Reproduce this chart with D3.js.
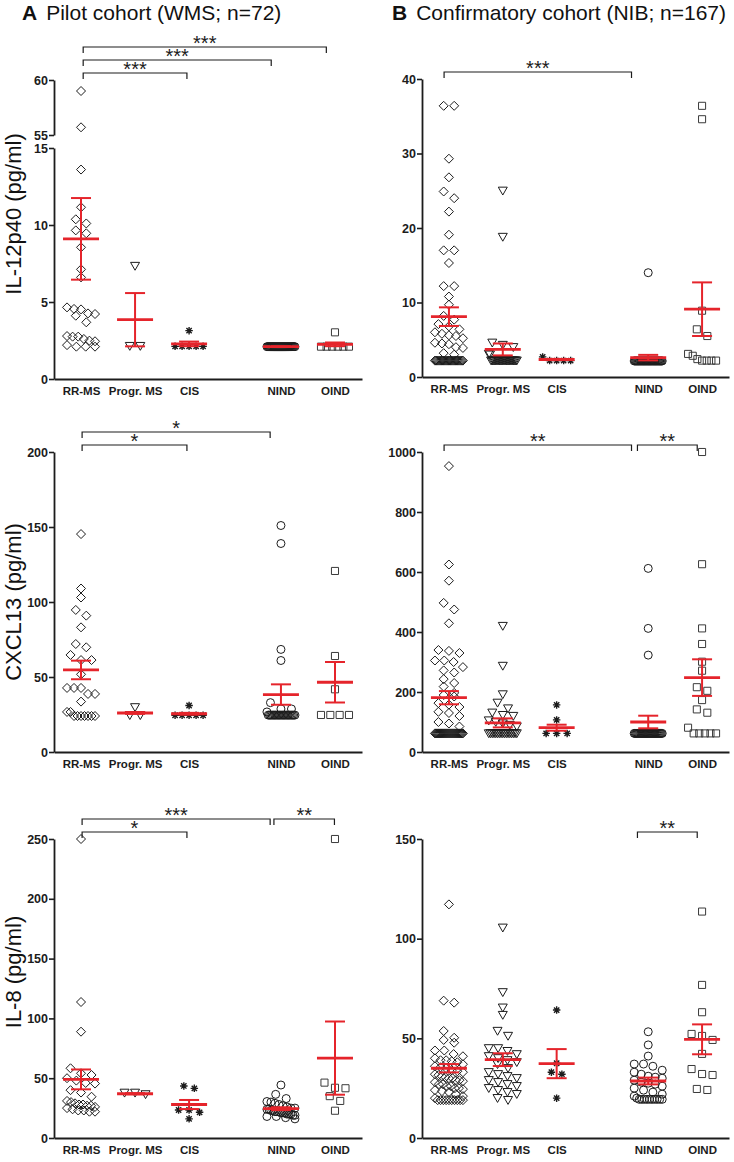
<!DOCTYPE html>
<html><head><meta charset="utf-8">
<script src="https://cdn.jsdelivr.net/npm/d3@7"></script>
<style>
body{margin:0;background:#fff}
svg{display:block}
text{font-family:"Liberation Sans",Arial,Helvetica,sans-serif}
</style>
</head><body>
<svg id="chart" width="734" height="1162"></svg>
<script>
// ---------------- DATA ----------------
const categories = ["RR-MS", "Progr. MS", "CIS", "NIND", "OIND"];
const panelTitles = ["Pilot cohort (WMS; n=72)", "Confirmatory cohort (NIB; n=167)"];
const panelLetters = ["A", "B"];
const yTitles = ["IL-12p40 (pg/ml)", "CXCL13 (pg/ml)", "IL-8 (pg/ml)"];

// IL-12p40, pilot cohort
const il12Pilot = [
  [59.0, 55.7, 13.6, 11.15, 10.37, 10.1, 9.65, 9.46, 8.55, 7.12, 6.6, 4.65, 4.55, 4.52, 4.26, 4.22, 4.11, 3.68, 2.79, 2.75, 2.75, 2.6, 2.49, 2.45, 2.2, 2.1, 2.1, 2.1],
  [7.34, 2.14, 2.14],
  [3.14, 2.12, 2.12, 2.12, 2.12, 2.12],
  [2.1, 2.1, 2.1, 2.1, 2.1, 2.1, 2.1, 2.1, 2.1, 2.1, 2.1, 2.1, 2.1, 2.1, 2.1, 2.1, 2.1, 2.1, 2.1, 2.1, 2.1, 2.1, 2.1, 2.1, 2.1, 2.1, 2.1, 2.1, 2.1, 2.1],
  [3.03, 2.1, 2.1, 2.1, 2.1, 2.1, 2.1]
];
const il12PilotMean = [9.1, 3.85, 2.28, 2.1, 2.25];
const il12PilotSem = [2.65, 1.73, 0.15, 0.02, 0.12];
const il12PilotTicksLow = [0, 5, 10, 15];
const il12PilotTicksHigh = [55, 60];
const il12PilotSig = [
  {from: 0.54, to: 2.46, level: 0, label: "***"},
  {from: 0.54, to: 4.02, level: 1, label: "***"},
  {from: 0.54, to: 5.04, level: 2, label: "***"}
];

// IL-12p40, confirmatory cohort
const il12Conf = [
  [36.4, 36.4, 29.3, 26.8, 24.9, 24.0, 22.2, 19.1, 17.0, 17.0, 15.3, 12.2, 12.2, 10.8, 9.7, 8.2, 7.7, 7.1, 6.8, 6.4, 6.0, 5.8, 5.6, 5.5, 5.2, 4.6, 4.5, 4.4, 4.0, 3.9, 3.2, 3.0,
   2.2, 2.2, 2.2, 2.2, 2.2, 2.2, 2.2, 2.2, 2.2, 2.2, 2.2, 2.2, 2.2, 2.2, 2.2, 2.2, 2.2, 2.2, 2.2, 2.2, 2.2, 2.2, 2.2, 2.2, 2.2],
  [25.0, 18.8, 4.6, 4.3, 4.0, 3.1, 3.0, 2.2, 2.2, 2.2, 2.2, 2.2, 2.2, 2.2, 2.2, 2.2, 2.2, 2.2, 2.2, 2.2, 2.2, 2.2, 2.2, 2.2, 2.2, 2.2, 2.2, 2.2, 2.2, 2.2],
  [2.7, 2.2, 2.2, 2.2, 2.2],
  [14.0, 2.15, 2.15, 2.15, 2.15, 2.15, 2.15, 2.15, 2.15, 2.15, 2.15, 2.15, 2.15, 2.15, 2.15, 2.15, 2.15, 2.15, 2.15, 2.15, 2.15, 2.15, 2.15, 2.15, 2.15, 2.15, 2.15, 2.15, 2.15, 2.15, 2.15, 2.15, 2.15, 2.15, 2.15],
  [36.4, 34.6, 8.9, 6.4, 5.5, 3.1, 2.85, 2.4, 2.2, 2.2, 2.2, 2.2]
];
const il12ConfMean = [8.1, 3.7, 2.35, 2.6, 9.1];
const il12ConfSem = [1.25, 0.8, 0.08, 0.37, 3.6];
const il12ConfTicks = [0, 10, 20, 30, 40];
const il12ConfSig = [
  {from: 0.41, to: 3.89, level: 0, label: "***"}
];

// CXCL13, pilot cohort
const cxclPilot = [
  [145.3, 109, 103, 94.7, 90.9, 83.1, 72, 69.8, 64.7, 61.3, 61.3, 51.8, 42.7, 42.7, 42.7, 38.7, 38.7, 33.6, 26.7, 26.7, 24, 24, 24, 24, 24, 24, 24],
  [29.8, 24.5, 24.5],
  [31, 24.5, 24.5, 24.5, 24.5, 24.5],
  [151, 139, 68.4, 61, 32.9, 28.7, 28.7, 26.7, 24.6, 24.6, 24.6, 24.6, 24.6, 24.6, 24.6, 24.6, 24.6, 24.6, 24.6, 24.6, 24.6, 24.6, 24.6, 24.6, 24.6, 24.6, 24.6, 24.6, 24.6, 24.6],
  [120.7, 64, 41.8, 24.7, 24.7, 24.7, 24.7]
];
const cxclPilotMean = [54.7, 26, 25.5, 38.3, 46.5];
const cxclPilotSem = [6.2, 0.6, 0.6, 6.8, 13.5];
const cxclPilotTicks = [0, 50, 100, 150, 200];
const cxclPilotSig = [
  {from: 0.52, to: 2.46, level: 0, label: "*"},
  {from: 0.52, to: 4.0, level: 1, label: "*"}
];

// CXCL13, confirmatory cohort
const cxclConf = [
  [953, 625, 571, 497, 475, 429, 340, 337, 330, 305, 305, 300, 283, 272, 265, 243, 230, 218, 197, 190, 185, 163, 158, 150, 134, 130, 120, 100, 95, 85,
   62, 62, 62, 62, 62, 62, 62, 62, 62, 62, 62, 62, 62, 62, 62, 62, 62, 62, 62, 62, 62, 62, 62, 62, 62, 62, 62, 62],
  [420, 287, 192, 164, 145, 131, 123, 120, 105, 100, 95, 90, 85, 62, 62, 62, 62, 62, 62, 62, 62, 62, 62, 62, 62, 62, 62, 62, 62, 62],
  [157, 107, 62, 62, 62],
  [612, 412, 323, 62, 62, 62, 62, 62, 62, 62, 62, 62, 62, 62, 62, 62, 62, 62, 62, 62, 62, 62, 62, 62, 62, 62, 62, 62, 62, 62, 62, 62, 62, 62, 62],
  [1000, 626, 412, 360, 301, 271, 216, 204, 173, 142, 131, 81, 62, 62, 62, 62, 62]
];
const cxclConfMean = [181, 97, 81, 100, 248];
const cxclConfSem = [22, 15, 10, 21, 61];
const cxclConfTicks = [0, 200, 400, 600, 800, 1000];
const cxclConfSig = [
  {from: 0.41, to: 3.89, level: 0, label: "**"},
  {from: 4.0, to: 5.11, level: 0, label: "**"}
];

// IL-8, pilot cohort
const il8Pilot = [
  [250, 113.7, 88.9, 58.3, 54.1, 52.7, 50, 48, 46, 45.5, 40, 38, 34.5, 31, 30, 29, 28, 28, 27, 27, 26, 25, 24, 23, 23, 22, 22],
  [37.8, 36.5, 37.8],
  [41.5, 43.5, 23.4, 21.5, 23.4, 16],
  [44.3, 36.5, 33, 30.5, 30, 29, 28, 27, 26, 25, 25, 24, 24, 23, 23, 22, 22, 22, 21, 21, 21, 20, 20, 20, 19, 19, 18, 18, 17, 16],
  [250, 46.3, 41.6, 42, 35, 31, 22.8]
];
const il8PilotMean = [49, 37, 28, 24.5, 66.8];
const il8PilotSem = [8.3, 0.5, 3.8, 1.2, 30.6];
const il8PilotTicks = [0, 50, 100, 150, 200, 250];
const il8PilotSig = [
  {from: 0.52, to: 2.46, level: 0, label: "*"},
  {from: 0.52, to: 4.0, level: 1, label: "***"},
  {from: 4.07, to: 5.19, level: 1, label: "**"}
];

// IL-8, confirmatory cohort
const il8Conf = [
  [117.2, 68.9, 67.9, 53.7, 50.3, 49.2, 47.8, 43.9, 43.9, 42.1, 41, 40, 39, 39, 38.5, 38, 37, 36, 35.5, 35, 34, 33.5, 33, 32, 31.5, 31, 30.5, 30, 30, 29, 29, 28.5, 28, 27, 27, 26, 26, 25, 25, 24.5, 24, 23.5, 23, 22, 21, 20, 19, 19, 19, 19, 19, 19, 19, 19, 19, 19],
  [105.5, 73.1, 65.4, 61.7, 53.7, 51.2, 45, 43.6, 45, 42, 41, 40, 39, 38, 37, 35, 33, 32, 31, 30, 29, 28, 27, 26, 25, 24, 23, 22, 20, 19],
  [64.2, 37.5, 33, 32, 20],
  [53.3, 46.7, 41.1, 37.1, 37.1, 36, 34, 33, 32, 31, 30.5, 30, 29, 28, 27.5, 27, 26, 25, 24, 23, 22, 21, 20, 19.4, 19.4, 19.4, 19.4, 19.4, 19.4, 19.4, 19.4, 19.4, 19.4],
  [113.6, 76.8, 63.1, 52.2, 51.2, 49.2, 42.2, 34.6, 32.1, 31.6, 24.6, 24.1]
];
const il8ConfMean = [35, 39.3, 37.3, 28.6, 49.5];
const il8ConfSem = [2.1, 3.2, 7.3, 1.7, 7.5];
const il8ConfTicks = [0, 50, 100, 150];
const il8ConfSig = [
  {from: 4.0, to: 5.11, level: 0, label: "**"}
];

// ---------------- DRAWING ----------------
const svg = d3.select("#chart");
const RED = "#e5242b";
const INK = "#1c1c1c";
const FONT = '"Liberation Sans",Arial,Helvetica,sans-serif';
const catSlot = [0.5, 1.5, 2.5, 4.2, 5.2];

// marker shapes
const diamond = {draw(ctx, size){ const r = Math.sqrt(size)/2; ctx.moveTo(0,-r); ctx.lineTo(r,0); ctx.lineTo(0,r); ctx.lineTo(-r,0); ctx.closePath(); }};
const triDown = {draw(ctx, size){ const r = Math.sqrt(size)/2; ctx.moveTo(-r,-r*0.8); ctx.lineTo(r,-r*0.8); ctx.lineTo(0,r*0.95); ctx.closePath(); }};
const square = {draw(ctx, size){ const r = Math.sqrt(size)/2; ctx.rect(-r,-r,2*r,2*r); }};
const circle = {draw(ctx, size){ const r = Math.sqrt(size)/2; ctx.moveTo(r,0); ctx.arc(0,0,r,0,2*Math.PI); }};
const aster = {draw(ctx, size){ const r = Math.sqrt(size)/2;
  for (let k=0;k<4;k++){ const a = k*Math.PI/4; ctx.moveTo(-r*Math.cos(a), -r*Math.sin(a)); ctx.lineTo(r*Math.cos(a), r*Math.sin(a)); } }};
const shapes = [
  {type: diamond, size: 81, stroke: INK},
  {type: triDown, size: 81, stroke: INK},
  {type: aster, size: 56, stroke: INK, sw: 1.4},
  {type: circle, size: 64, stroke: INK},
  {type: square, size: 50, stroke: "#3a3a3a"}
];

function swarm(vals, yf, cx, spacing, maxHalf, rowH){
  const pts = vals.map(v => ({v, y: yf(v)})).sort((a,b) => a.y - b.y);
  const rows = []; let cur = null;
  pts.forEach(p => { if (!cur || p.y - cur.y0 > rowH){ cur = {y0: p.y, pts: []}; rows.push(cur);} cur.pts.push(p); });
  rows.forEach(r => {
    const n = r.pts.length;
    const s = n > 1 ? Math.min(spacing, 2*maxHalf/(n-1)) : 0;
    r.pts.forEach((p,i) => p.x = cx + (i - (n-1)/2)*s);
  });
  return pts;
}

const cols = [{x0: 54, x1: 362}, {x0: 422, x1: 729}];

const panels = [
  {col: 0, top: 80, bottom: 379, data: il12Pilot, mean: il12PilotMean, sem: il12PilotSem, sig: il12PilotSig,
   broken: {lowDomain: [0, 15], lowTop: 148, highDomain: [55, 60], highBottom: 135, lowTicks: il12PilotTicksLow, highTicks: il12PilotTicksHigh}},
  {col: 1, top: 79, bottom: 377, data: il12Conf, mean: il12ConfMean, sem: il12ConfSem, sig: il12ConfSig, domain: [0, 40], ticks: il12ConfTicks},
  {col: 0, top: 452, bottom: 752, data: cxclPilot, mean: cxclPilotMean, sem: cxclPilotSem, sig: cxclPilotSig, domain: [0, 200], ticks: cxclPilotTicks},
  {col: 1, top: 452, bottom: 752, data: cxclConf, mean: cxclConfMean, sem: cxclConfSem, sig: cxclConfSig, domain: [0, 1000], ticks: cxclConfTicks},
  {col: 0, top: 839, bottom: 1138, data: il8Pilot, mean: il8PilotMean, sem: il8PilotSem, sig: il8PilotSig, domain: [0, 250], ticks: il8PilotTicks},
  {col: 1, top: 839, bottom: 1138, data: il8Conf, mean: il8ConfMean, sem: il8ConfSem, sig: il8ConfSig, domain: [0, 150], ticks: il8ConfTicks}
];

function styleAxis(g){
  g.selectAll("path.domain").attr("stroke", INK).attr("stroke-width", 1.8);
  g.selectAll(".tick line").attr("stroke", INK).attr("stroke-width", 1.6);
  g.selectAll(".tick text").attr("fill", INK).attr("font-family", FONT).attr("font-weight", "bold").attr("font-size", 12.5);
}
const fmt = d3.format("d");

panels.forEach(P => {
  const {x0, x1} = cols[P.col];
  const g = svg.append("g");
  const xs = d3.scaleLinear().domain([0, 5.7]).range([x0, x1]);
  let y;
  if (P.broken){
    const B = P.broken;
    const yl = d3.scaleLinear().domain(B.lowDomain).range([P.bottom, B.lowTop]);
    const yh = d3.scaleLinear().domain(B.highDomain).range([B.highBottom, P.top]);
    y = v => v > B.lowDomain[1] ? yh(v) : yl(v);
    const gl = g.append("g").attr("transform", `translate(${x0},0)`)
      .call(d3.axisLeft(yl).tickValues(B.lowTicks).tickFormat(fmt).tickSize(5).tickSizeOuter(0).tickPadding(1));
    styleAxis(gl);
    const gh = g.append("g").attr("transform", `translate(${x0},0)`)
      .call(d3.axisLeft(yh).tickValues(B.highTicks).tickFormat(fmt).tickSize(5).tickSizeOuter(0).tickPadding(1));
    styleAxis(gh);
  } else {
    y = d3.scaleLinear().domain(P.domain).range([P.bottom, P.top]);
    const gy = g.append("g").attr("transform", `translate(${x0},0)`)
      .call(d3.axisLeft(y).tickValues(P.ticks).tickFormat(fmt).tickSize(5).tickSizeOuter(0).tickPadding(1));
    styleAxis(gy);
  }
  // x axis
  const gx = g.append("g").attr("transform", `translate(0,${P.bottom})`)
    .call(d3.axisBottom(xs).tickValues(catSlot).tickFormat((d,i) => categories[i]).tickSize(0).tickSizeOuter(0).tickPadding(8));
  styleAxis(gx);
  gx.selectAll(".tick text").attr("font-size", 11.5);

  // points
  P.data.forEach((vals, ci) => {
    const sh = shapes[ci];
    const pts = swarm(vals, y, xs(catSlot[ci]), 10.5, 14, 7);
    g.append("g").selectAll("path").data(pts).join("path")
      .attr("transform", d => `translate(${d.x},${d.y})`)
      .attr("d", d3.symbol().type(sh.type).size(sh.size))
      .attr("fill", "none").attr("stroke", sh.stroke).attr("stroke-width", sh.sw || 1);
  });

  // mean +- SEM
  const mg = g.append("g").attr("stroke", RED).attr("fill", "none");
  P.mean.forEach((m, ci) => {
    const cx = xs(catSlot[ci]);
    const s = P.sem[ci];
    mg.append("line").attr("x1", cx).attr("x2", cx).attr("y1", y(m - s)).attr("y2", y(m + s)).attr("stroke-width", 2);
    mg.append("line").attr("x1", cx - 10).attr("x2", cx + 10).attr("y1", y(m + s)).attr("y2", y(m + s)).attr("stroke-width", 2);
    mg.append("line").attr("x1", cx - 10).attr("x2", cx + 10).attr("y1", y(m - s)).attr("y2", y(m - s)).attr("stroke-width", 2);
    mg.append("line").attr("x1", cx - 18).attr("x2", cx + 18).attr("y1", y(m)).attr("y2", y(m)).attr("stroke-width", 2.8);
  });

  // significance brackets
  const sg = g.append("g");
  P.sig.forEach(b => {
    const ly = P.top - 7 - 13*b.level;
    const xa = xs(b.from), xb = xs(b.to);
    sg.append("path").attr("d", `M${xa},${ly+6}V${ly}H${xb}V${ly+6}`)
      .attr("fill", "none").attr("stroke", INK).attr("stroke-width", 1.2);
    sg.append("text").attr("x", (xa + xb)/2).attr("y", ly + 3).attr("text-anchor", "middle")
      .attr("font-size", 20).attr("fill", INK).text(b.label);
  });
});

// panel titles
cols.forEach((c, i) => {
  const t = svg.append("text").attr("x", i === 0 ? 22 : 392).attr("y", 20).attr("font-size", 21).attr("fill", "#111");
  t.append("tspan").attr("font-weight", "bold").text(panelLetters[i]);
  t.append("tspan").attr("dx", 9).text(panelTitles[i]);
});

// y axis titles
const yTitleCenters = [214, 602, 972];
yTitles.forEach((t, i) => {
  svg.append("text").attr("transform", `translate(21,${yTitleCenters[i]}) rotate(-90)`)
    .attr("text-anchor", "middle").attr("font-size", 22).attr("fill", "#111").text(t);
});
</script>
</body></html>
